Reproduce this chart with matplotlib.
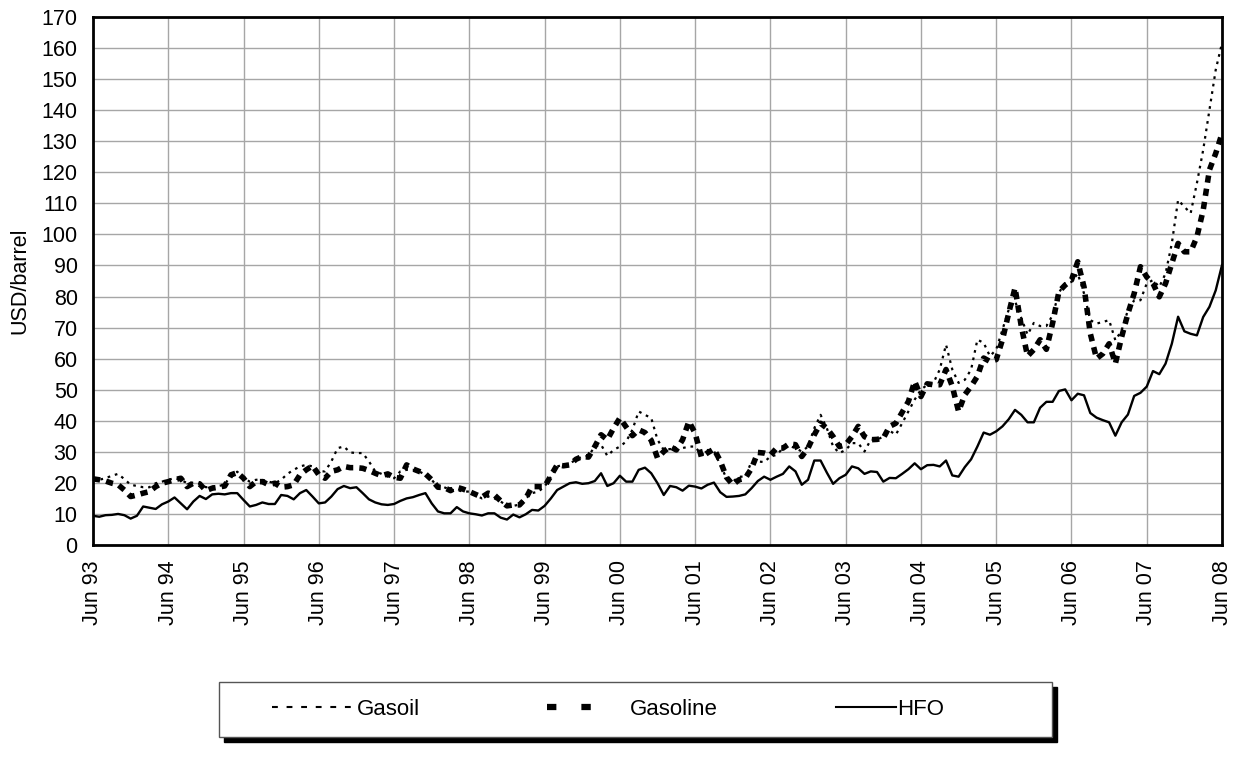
import matplotlib
matplotlib.use("Agg")
import matplotlib.pyplot as plt
from matplotlib.patches import Rectangle
from matplotlib.lines import Line2D
import numpy as np

plt.rcParams['font.family'] = ['Liberation Sans', 'DejaVu Sans']

# monthly values, Jun 93 .. Jun 08 (USD/barrel)
gasoil = [
    21.3, 21.0, 21.5, 22.3, 22.9, 21.2, 19.4, 19.0, 18.6, 18.6, 19.9, 20.4,
    21.0, 21.5, 21.0, 19.9, 20.1, 19.7, 18.6, 18.8, 19.0, 19.4, 22.6, 23.6,
    21.5, 20.4, 21.0, 21.0, 20.4, 19.9, 21.0, 22.9, 24.2, 25.3, 25.8, 25.3,
    23.7, 23.7, 26.9, 31.2, 31.7, 29.8, 29.6, 29.6, 26.9, 23.7, 22.9, 22.0,
    21.5, 23.7, 24.2, 24.2, 23.7, 22.6, 21.0, 18.6, 18.6, 17.7, 17.7, 17.2,
    17.2, 16.1, 15.0, 15.6, 15.0, 14.0, 12.6, 12.6, 13.0, 15.0, 16.7, 17.2,
    18.8, 22.0, 25.3, 25.8, 26.3, 27.4, 28.5, 28.7, 31.7, 32.3, 28.7, 30.6,
    31.7, 33.3, 37.1, 43.0, 41.9, 40.9, 33.9, 30.6, 30.9, 30.6, 31.2, 31.7,
    31.7, 29.0, 30.6, 30.3, 25.8, 21.5, 20.4, 22.0, 22.0, 26.9, 26.9, 26.7,
    28.5, 29.0, 31.2, 31.9, 31.2, 30.1, 31.7, 37.6, 41.9, 37.6, 31.7, 29.6,
    30.6, 32.8, 32.8, 30.1, 33.9, 33.9, 34.9, 36.8, 35.5, 39.2, 43.0, 46.8,
    50.0, 51.6, 52.2, 56.5, 64.5, 56.5, 52.2, 53.2, 56.5, 66.1, 65.1, 60.8,
    62.9, 69.4, 75.8, 78.5, 73.1, 67.7, 71.5, 70.5, 70.5, 74.0, 81.3, 84.3,
    84.7, 87.4, 81.0, 72.4, 71.3, 71.8, 72.4, 65.9, 69.1, 75.6, 78.8, 78.8,
    84.2, 85.3, 83.1, 87.4, 97.1, 111.1, 108.9, 106.8, 116.5, 127.2, 140.1, 153.0,
    161.6,
]

gasoline = [
    21.3, 21.0, 20.6, 19.9, 19.4, 17.7, 15.6, 16.1, 16.7, 17.2, 18.8, 19.9,
    20.4, 21.0, 21.5, 18.8, 19.9, 19.7, 17.5, 18.3, 18.6, 19.0, 22.6, 23.3,
    21.5, 18.8, 20.4, 20.4, 19.4, 19.9, 18.6, 18.8, 19.4, 22.6, 24.2, 25.5,
    22.6, 21.5, 23.7, 24.2, 25.3, 24.9, 24.9, 24.7, 24.0, 23.1, 22.3, 22.9,
    21.8, 21.5, 25.8, 24.5, 23.7, 22.9, 21.0, 18.6, 18.5, 17.5, 18.6, 18.0,
    17.2, 16.3, 15.4, 16.7, 16.1, 14.2, 12.6, 12.9, 12.9, 15.0, 18.8, 18.8,
    18.8, 22.3, 25.8, 25.5, 25.8, 27.6, 28.5, 28.3, 31.7, 35.5, 33.9, 37.6,
    40.9, 38.0, 35.2, 37.1, 36.2, 33.7, 28.0, 30.1, 31.7, 30.6, 33.9, 39.8,
    36.0, 28.3, 29.7, 30.9, 27.1, 21.8, 19.4, 21.0, 21.5, 24.7, 29.8, 29.6,
    29.0, 31.2, 31.2, 32.6, 32.3, 28.5, 31.2, 35.5, 39.2, 37.6, 34.9, 31.7,
    32.3, 34.9, 38.2, 34.9, 33.9, 34.0, 34.4, 38.2, 39.2, 42.7, 46.2, 52.7,
    47.8, 51.9, 51.6, 51.6, 56.5, 51.1, 43.0, 48.4, 51.1, 54.3, 60.2, 59.1,
    59.7, 66.1, 74.7, 82.8, 70.4, 60.8, 62.9, 66.1, 63.0, 71.5, 81.6, 83.7,
    85.3, 91.2, 83.1, 68.1, 60.0, 61.6, 64.8, 58.4, 67.0, 74.5, 81.0, 89.6,
    86.3, 84.2, 79.9, 84.2, 90.6, 97.1, 94.4, 94.4, 99.2, 107.8, 120.8, 126.1,
    132.5,
]

hfo = [
    9.4, 9.1, 9.6, 9.7, 10.0, 9.6, 8.5, 9.4, 12.4, 12.0, 11.6, 13.1,
    14.0, 15.3, 13.4, 11.5, 14.0, 15.8, 14.8, 16.3, 16.5, 16.3, 16.7, 16.7,
    14.5, 12.4, 12.9, 13.7, 13.2, 13.2, 16.1, 15.8, 14.7, 16.7, 17.7, 15.6,
    13.4, 13.7, 15.6, 18.0, 19.0, 18.3, 18.6, 16.7, 14.7, 13.7, 13.1, 12.9,
    13.2, 14.2, 15.0, 15.4, 16.1, 16.7, 13.4, 10.8, 10.2, 10.2, 12.2, 10.8,
    10.2, 9.9, 9.5, 10.2, 10.2, 8.8, 8.2, 9.8, 8.9, 9.9, 11.3, 11.1,
    12.6, 15.0, 17.7, 18.8, 19.9, 20.2, 19.7, 19.9, 20.6, 23.1, 19.0, 19.9,
    22.3, 20.4, 20.4, 24.2, 24.9, 23.1, 19.9, 16.1, 19.0, 18.6, 17.5, 19.1,
    18.8, 18.2, 19.4, 20.1, 17.0, 15.5, 15.6, 15.8, 16.3, 18.3, 20.6, 22.0,
    21.0, 22.0, 22.9, 25.3, 23.7, 19.4, 21.0, 27.2, 27.2, 23.3, 19.7, 21.5,
    22.6, 25.3, 24.7, 22.9, 23.7, 23.5, 20.4, 21.6, 21.5, 22.9, 24.4, 26.3,
    24.4, 25.7, 25.8, 25.3, 27.2, 22.4, 22.0, 25.1, 27.6, 31.7, 36.2, 35.5,
    36.6, 38.2, 40.5, 43.5, 41.9, 39.5, 39.5, 44.2, 46.1, 46.1, 49.6, 50.1,
    46.6, 48.7, 48.2, 42.5, 41.0, 40.2, 39.5, 35.2, 39.5, 42.0, 48.0, 49.0,
    51.0, 56.0, 55.0, 58.4, 64.8, 73.5, 68.8, 68.0, 67.5, 73.4, 76.7, 82.0,
    90.1,
]

years = ['93', '94', '95', '96', '97', '98', '99', '00',
         '01', '02', '03', '04', '05', '06', '07', '08']
tick_labels = ['Jun ' + y for y in years]

x = np.arange(len(hfo))
W, H = 1243, 761

fig = plt.figure(figsize=(W / 100, H / 100), dpi=100)
ax = fig.add_axes([93 / W, 1 - 545 / H, 1129 / W, 528 / H])

ax.plot(x, gasoil, color='black', lw=1.6, ls=(0, (1.2, 2.2)))
ax.plot(x, gasoline, color='black', lw=4.0, ls=(0, (1.3, 1.1)))
ax.plot(x, hfo, color='black', lw=1.7, ls='-')

ax.set_xlim(0, 180)
ax.set_ylim(0, 170)
ax.set_yticks(np.arange(0, 171, 10))
ax.set_xticks(np.arange(0, 181, 12))
ax.set_xticklabels(tick_labels, rotation=90)
ax.tick_params(length=0, labelsize=15.5, pad=11)
ax.grid(True, color='#a6a6a6', lw=1)
ax.set_axisbelow(True)
for sp in ax.spines.values():
    sp.set_linewidth(2)
ax.set_ylabel('USD/barrel', fontsize=15.5, labelpad=8)

# legend box with a solid shadow
fig.patches.append(Rectangle((224 / W, 1 - 742 / H), 833 / W, 55 / H,
                             transform=fig.transFigure, color='black', zorder=0))
fig.patches.append(Rectangle((219 / W, 1 - 737 / H), 833 / W, 55 / H,
                             transform=fig.transFigure, facecolor='white',
                             edgecolor='#555555', lw=1, zorder=1))

fs = 16
em = fs * 100 / 72
entries = [
    # label, handle, handle start px, handle length px, text gap px
    ('Gasoil', Line2D([], [], color='black', lw=1.5, ls=(0, (2.8, 4.2))), 272, 81, 4),
    ('Gasoline', Line2D([], [], color='black', lw=4.5, ls=(0, (1.5, 4.0))), 547, 64, 19),
    ('HFO', Line2D([], [], color='black', lw=1.5, ls='-'), 836, 60, 1),
]
for label, handle, x0, hl, gap in entries:
    leg = fig.legend([handle], [label], loc='center left',
                     bbox_to_anchor=(x0 / W, 1 - 709.5 / H), frameon=False,
                     fontsize=fs, handlelength=hl / em, handletextpad=gap / em,
                     borderaxespad=0, borderpad=0)

fig.savefig('out.png', dpi=100)
